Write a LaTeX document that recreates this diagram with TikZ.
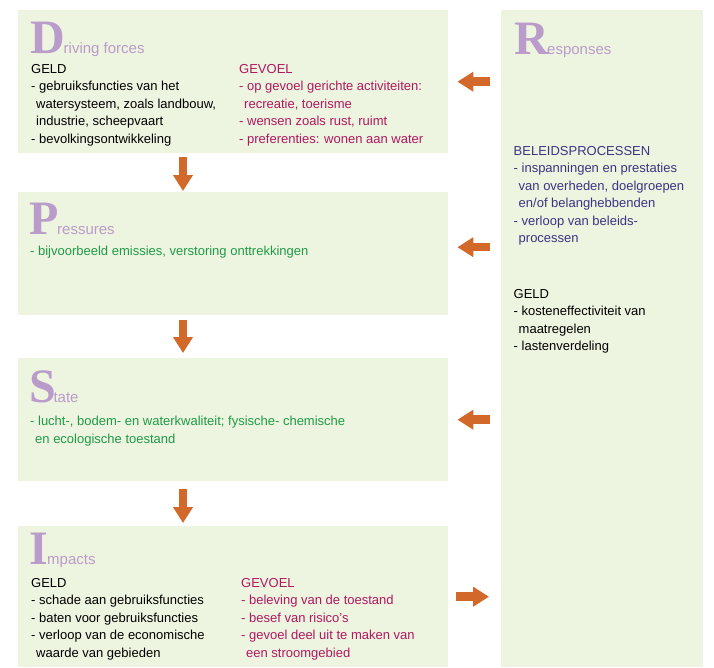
\documentclass[tikz,border=0pt]{standalone}
\usepackage{fontspec}
\setmainfont{Liberation Sans}
\newfontfamily\initfamily{Liberation Serif}
\usetikzlibrary{positioning,arrows.meta}

\definecolor{vakgroen}{HTML}{EDF4DF}
\definecolor{lila}{HTML}{BA9CCB}
\definecolor{oranje}{HTML}{D2692B}
\definecolor{gevoel}{HTML}{B01860}
\definecolor{groen}{HTML}{1F9B48}
\definecolor{beleid}{HTML}{3A3582}

\tikzset{
  vak/.style={fill=vakgroen, draw=none, anchor=north west, inner sep=0pt},
  initiaal/.style={anchor=base west, inner sep=0pt, text=lila,
    font=\initfamily\bfseries\fontsize{48}{48}\selectfont},
  kop/.style={anchor=base west, inner sep=0pt, text=lila, font=\fontsize{15}{18}\selectfont},
  % anchor=base ligt op de basislijn van de laatste regel
  tekst/.style={anchor=base west, inner sep=0pt, align=left, font=\fontsize{13}{17.5}\selectfont},
  pijl/.style={draw=oranje, line width=8.5pt, -{Triangle[length=16pt,width=19pt]}},
}

\begin{document}
\begin{tikzpicture}[x=1pt, y=-1pt]
\useasboundingbox (0,0) rectangle (714,667);

% vakken
\node[vak, minimum width=430pt, minimum height=143pt] (drive) at (18,10) {};
\node[vak, minimum width=430pt, minimum height=123pt] (press) at (18,192) {};
\node[vak, minimum width=430pt, minimum height=123pt] (state) at (18,358) {};
\node[vak, minimum width=430pt, minimum height=141pt] (impact) at (18,526) {};
\node[vak, minimum width=202pt, minimum height=657pt] (resp) at (501,10) {};

% Driving forces
\node[initiaal] (dInit) at (30,53) {D};
\node[kop] (dKop) at (63.5,53) {riving forces};
\node[tekst] (dGeld) at (31,143.3) {GELD\\- gebruiksfuncties van het\\\hspace*{5pt}watersysteem, zoals landbouw,\\\hspace*{5pt}industrie, scheepvaart\\- bevolkingsontwikkeling};
\node[tekst, text=gevoel] (dGevoel) at (239,143.3) {GEVOEL\\- op gevoel gerichte activiteiten:\\\hspace*{5pt}recreatie, toerisme\\- wensen zoals rust, ruimt\\- preferenties: wonen aan water};

% Pressures
\node[initiaal] (pInit) at (29.5,234.3) {P};
\node[kop] (pKop) at (57,234.3) {ressures};
\node[tekst, text=groen] (pTekst) at (30,255) {- bijvoorbeeld emissies, verstoring onttrekkingen};

% State
\node[initiaal] (sInit) at (29,402.5) {S};
\node[kop] (sKop) at (53.3,402.5) {tate};
\node[tekst, text=groen] (sTekst) at (30,443) {- lucht-, bodem- en waterkwaliteit; fysische- chemische\\\hspace*{5pt}en ecologische toestand};

% Impacts
\node[initiaal] (iInit) at (29.5,564.3) {I};
\node[kop] (iKop) at (47,564.3) {mpacts};
\node[tekst] (iGeld) at (31,657) {GELD\\- schade aan gebruiksfuncties\\- baten voor gebruiksfuncties\\- verloop van de economische\\\hspace*{5pt}waarde van gebieden};
\node[tekst, text=gevoel] (iGevoel) at (241,657) {GEVOEL\\- beleving van de toestand\\- besef van risico's\\- gevoel deel uit te maken van\\\hspace*{5pt}een stroomgebied};

% Responses
\node[initiaal] (rInit) at (514,54.3) {R};
\node[kop] (rKop) at (547,54.3) {esponses};
\node[tekst, text=beleid] (rBeleid) at (513.5,242.5) {BELEIDSPROCESSEN\\- inspanningen en prestaties\\\hspace*{5pt}van overheden, doelgroepen\\\hspace*{5pt}en/of belanghebbenden\\- verloop van beleids-\\\hspace*{5pt}processen};
\node[tekst] (rGeld) at (513.5,350.5) {GELD\\- kosteneffectiviteit van\\\hspace*{5pt}maatregelen\\- lastenverdeling};

% pijlen
\coordinate (pijlx) at (183,0);
\draw[pijl, shorten <=4pt, shorten >=1pt] (drive.south -| pijlx) -- (press.north -| pijlx);
\draw[pijl, shorten <=5pt, shorten >=5pt] (press.south -| pijlx) -- (state.north -| pijlx);
\draw[pijl, shorten <=8pt, shorten >=3pt] (state.south -| pijlx) -- (impact.north -| pijlx);
\draw[pijl, shorten <=11pt, shorten >=9pt] (resp.west |- drive.east) -- (drive.east);
\draw[pijl, shorten <=11pt, shorten >=9pt] ([yshift=6.5pt]resp.west |- press.east) -- ([yshift=6.5pt]press.east);
\draw[pijl, shorten <=11pt, shorten >=9pt] (resp.west |- state.east) -- (state.east);
\draw[pijl, shorten <=8pt, shorten >=12pt] (impact.east) -- (resp.west |- impact.east);

\end{tikzpicture}
\end{document}
